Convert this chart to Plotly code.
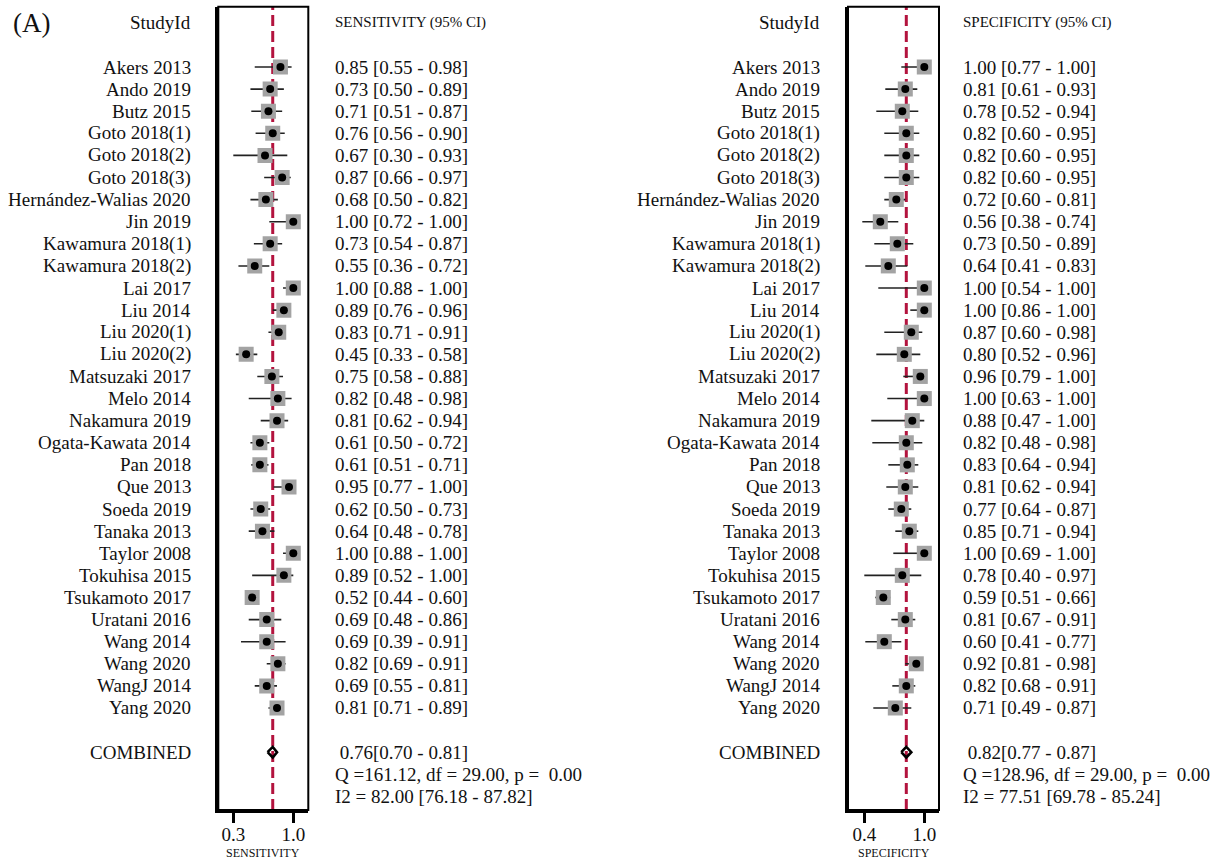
import plotly.graph_objects as go

# ---------------- data ----------------
studies = ["Akers 2013", "Ando 2019", "Butz 2015", "Goto 2018(1)", "Goto 2018(2)", "Goto 2018(3)",
           "Hernández-Walias 2020", "Jin 2019", "Kawamura 2018(1)", "Kawamura 2018(2)", "Lai 2017",
           "Liu 2014", "Liu 2020(1)", "Liu 2020(2)", "Matsuzaki 2017", "Melo 2014", "Nakamura 2019",
           "Ogata-Kawata 2014", "Pan 2018", "Que 2013", "Soeda 2019", "Tanaka 2013", "Taylor 2008",
           "Tokuhisa 2015", "Tsukamoto 2017", "Uratani 2016", "Wang 2014", "Wang 2020", "WangJ 2014",
           "Yang 2020"]

sens = [0.85, 0.73, 0.71, 0.76, 0.67, 0.87, 0.68, 1.00, 0.73, 0.55, 1.00, 0.89, 0.83, 0.45, 0.75,
        0.82, 0.81, 0.61, 0.61, 0.95, 0.62, 0.64, 1.00, 0.89, 0.52, 0.69, 0.69, 0.82, 0.69, 0.81]
sens_lo = [0.55, 0.50, 0.51, 0.56, 0.30, 0.66, 0.50, 0.72, 0.54, 0.36, 0.88, 0.76, 0.71, 0.33, 0.58,
           0.48, 0.62, 0.50, 0.51, 0.77, 0.50, 0.48, 0.88, 0.52, 0.44, 0.48, 0.39, 0.69, 0.55, 0.71]
sens_hi = [0.98, 0.89, 0.87, 0.90, 0.93, 0.97, 0.82, 1.00, 0.87, 0.72, 1.00, 0.96, 0.91, 0.58, 0.88,
           0.98, 0.94, 0.72, 0.71, 1.00, 0.73, 0.78, 1.00, 1.00, 0.60, 0.86, 0.91, 0.91, 0.81, 0.89]

spec = [1.00, 0.81, 0.78, 0.82, 0.82, 0.82, 0.72, 0.56, 0.73, 0.64, 1.00, 1.00, 0.87, 0.80, 0.96,
        1.00, 0.88, 0.82, 0.83, 0.81, 0.77, 0.85, 1.00, 0.78, 0.59, 0.81, 0.60, 0.92, 0.82, 0.71]
spec_lo = [0.77, 0.61, 0.52, 0.60, 0.60, 0.60, 0.60, 0.38, 0.50, 0.41, 0.54, 0.86, 0.60, 0.52, 0.79,
           0.63, 0.47, 0.48, 0.64, 0.62, 0.64, 0.71, 0.69, 0.40, 0.51, 0.67, 0.41, 0.81, 0.68, 0.49]
spec_hi = [1.00, 0.93, 0.94, 0.95, 0.95, 0.95, 0.81, 0.74, 0.89, 0.83, 1.00, 1.00, 0.98, 0.96, 1.00,
           1.00, 1.00, 0.98, 0.94, 0.94, 0.87, 0.94, 1.00, 0.97, 0.66, 0.91, 0.77, 0.98, 0.91, 0.87]

sens_pooled = [0.76, 0.70, 0.81]
spec_pooled = [0.82, 0.77, 0.87]
sens_stats = ["Q =161.12, df = 29.00, p =\u00a0 0.00", "I2 = 82.00 [76.18 - 87.82]"]
spec_stats = ["Q =128.96, df = 29.00, p =\u00a0 0.00", "I2 = 77.51 [69.78 - 85.24]"]

sens_ticks = [0.3, 1.0]
spec_ticks = [0.4, 1.0]

# ---------------- layout helpers ----------------
W, H = 1231, 860
FONT = "Liberation Serif, Times New Roman, serif"
TXT = "#111111"
FS = 19
rows = list(range(2, 2 + len(studies)))
ROW_HEADER = 0
ROW_COMB = rows[-1] + 2
Y_RANGE = [35.615, -0.728]
DASH_COL = "#B3133E"


def px(x):
    return x / W


def py(y):
    return 1 - y / H


fig = go.Figure()


def panel(xa, ya, est, lo, hi, pooled, stats, label_x, text_x, header, axis_title):
    # CI lines
    fig.add_trace(go.Scatter(
        x=est, y=rows, mode="markers", xaxis=xa, yaxis=ya,
        marker=dict(size=1, color="rgba(0,0,0,0)"),
        error_x=dict(type="data", symmetric=False,
                     array=[h - e for h, e in zip(hi, est)],
                     arrayminus=[e - l for e, l in zip(est, lo)],
                     width=0, thickness=1.6, color="#222222"),
        showlegend=False, hoverinfo="skip"))
    # gray squares
    fig.add_trace(go.Scatter(
        x=est, y=rows, mode="markers", xaxis=xa, yaxis=ya,
        marker=dict(symbol="square", size=15, color="#A3A3A3", line=dict(width=0)),
        showlegend=False, hoverinfo="skip"))
    # black dots
    fig.add_trace(go.Scatter(
        x=est, y=rows, mode="markers", xaxis=xa, yaxis=ya,
        marker=dict(symbol="circle", size=8, color="black"),
        showlegend=False, hoverinfo="skip"))
    # pooled diamond
    p, plo, phi = pooled
    hd = 0.24
    fig.add_trace(go.Scatter(
        x=[plo, p, phi, p, plo], y=[ROW_COMB, ROW_COMB - hd, ROW_COMB, ROW_COMB + hd, ROW_COMB],
        mode="lines", xaxis=xa, yaxis=ya, line=dict(color="black", width=2.6),
        showlegend=False, hoverinfo="skip"))

    # dashed pooled line
    fig.add_shape(type="line", xref=xa, yref=f"{ya} domain", x0=p, x1=p, y0=0, y1=1,
                  line=dict(color=DASH_COL, width=3, dash="11px,5px"), layer="below")
    # box
    fig.add_shape(type="rect", xref=f"{xa} domain", yref=f"{ya} domain", x0=0, x1=1, y0=0, y1=1,
                  line=dict(color="black", width=2))

    tf = dict(family=FONT, size=FS, color=TXT)
    fig.add_annotation(x=label_x, xref="paper", xanchor="right", y=ROW_HEADER, yref=ya,
                       text="StudyId", showarrow=False, font=tf)
    fig.add_annotation(x=text_x, xref="paper", xanchor="left", y=ROW_HEADER, yref=ya,
                       text=header, showarrow=False, font=dict(family=FONT, size=15, color=TXT))
    for s, r, e, l, h in zip(studies, rows, est, lo, hi):
        fig.add_annotation(x=label_x, xref="paper", xanchor="right", y=r, yref=ya,
                           text=s, showarrow=False, font=tf)
        fig.add_annotation(x=text_x, xref="paper", xanchor="left", y=r, yref=ya,
                           text=f"{e:.2f} [{l:.2f} - {h:.2f}]", showarrow=False, font=tf)
    fig.add_annotation(x=label_x, xref="paper", xanchor="right", y=ROW_COMB, yref=ya,
                       text="COMBINED", showarrow=False, font=tf)
    fig.add_annotation(x=text_x, xref="paper", xanchor="left", y=ROW_COMB, yref=ya,
                       text=f"\u00a0{p:.2f}[{plo:.2f} - {phi:.2f}]", showarrow=False, font=tf)
    for i, st in enumerate(stats):
        fig.add_annotation(x=text_x, xref="paper", xanchor="left", y=ROW_COMB + 1 + i, yref=ya,
                           text=st, showarrow=False, font=tf)
    # axis title
    fig.add_annotation(x=0.5, xref=f"{xa} domain", xanchor="center", y=py(853), yref="paper",
                       yanchor="middle", text=axis_title, showarrow=False,
                       font=dict(family=FONT, size=12, color=TXT))


panel("x", "y", sens, sens_lo, sens_hi, sens_pooled, sens_stats,
      px(192.7), px(333), "SENSITIVITY (95% CI)", "SENSITIVITY")
panel("x2", "y2", spec, spec_lo, spec_hi, spec_pooled, spec_stats,
      px(822), px(961), "SPECIFICITY (95% CI)", "SPECIFICITY")

fig.add_annotation(x=px(11), xref="paper", xanchor="left", y=py(23), yref="paper",
                   yanchor="middle", text="(A)", showarrow=False,
                   font=dict(family=FONT, size=27, color=TXT))

ydom = [py(810), py(6.7)]
axis_common = dict(showgrid=False, zeroline=False, ticks="outside", ticklen=10, tickwidth=2.5,
                   tickcolor="black", showline=True, linecolor="black", linewidth=3,
                   ticklabelstandoff=-5,
                   tickfont=dict(family=FONT, size=FS, color=TXT), fixedrange=True)
fig.update_layout(
    width=W, height=H, margin=dict(l=0, r=0, t=0, b=0),
    paper_bgcolor="white", plot_bgcolor="white",
    xaxis=dict(domain=[px(218.3), px(308.3)], range=[0.125, 1.175], anchor="y",
               tickvals=sens_ticks, ticktext=[f"{t:.1f}" for t in sens_ticks], **axis_common),
    xaxis2=dict(domain=[px(848), px(939)], range=[0.237, 1.147], anchor="y2",
                tickvals=spec_ticks, ticktext=[f"{t:.1f}" for t in spec_ticks], **axis_common),
    yaxis=dict(domain=ydom, range=Y_RANGE, anchor="x", showticklabels=False, showgrid=False,
               zeroline=False, showline=True, linecolor="black", linewidth=3, fixedrange=True),
    yaxis2=dict(domain=ydom, range=Y_RANGE, anchor="x2", showticklabels=False, showgrid=False,
                zeroline=False, showline=True, linecolor="black", linewidth=3, fixedrange=True),
)

fig.write_html("out.html", config={"displayModeBar": False},
               post_script="document.body.style.margin='0px';")
